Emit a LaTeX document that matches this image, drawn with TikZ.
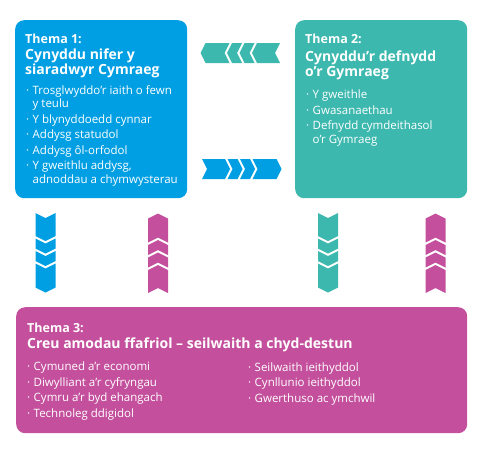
\documentclass[tikz,border=0pt]{standalone}
\usepackage{fontspec}
\setmainfont{Open Sans}
\usepackage{tikz}
\usetikzlibrary{positioning}
\definecolor{themablue}{HTML}{009FE3}
\definecolor{thematel}{HTML}{3CB8AE}
\definecolor{themapink}{HTML}{C4509D}
\tikzstyle{Thema}=[rectangle, rounded corners=9, inner sep=0, anchor=north west]
\tikzstyle{Num}=[anchor=base west, inner sep=0, text=white, font=\bfseries\fontsize{12.5}{15}\selectfont]
\tikzstyle{Head}=[anchor=base west, inner sep=0, align=left, text=white, font=\bfseries\fontsize{14}{15}\selectfont]
\tikzstyle{Items}=[anchor=base west, inner sep=0, align=left, text=white, font=\fontsize{11.5}{13.5}\selectfont]
\tikzset{chevs/.pic={
    \foreach \s/\l in {0/28, 25.5/15, 38/15, 50.5/29}
      \fill (\s,-10) -- ++(\l-5,0) -- ++(5,10) -- ++(-5,10) -- ++(-\l+5,0) -- ++(5,-10) -- cycle;
}}
\newcommand{\bul}{\makebox[6.5pt][l]{\textperiodcentered}}
\newcommand{\cnt}{\hspace*{6.5pt}}

\begin{document}
\begin{tikzpicture}[x=1pt, y=-1pt]
    \useasboundingbox (0,0) rectangle (481,453);
    \path
    (15,20) node[Thema, fill=themablue, minimum width=172, minimum height=178] (t1) {}
    (295,20) node[Thema, fill=thematel, minimum width=172, minimum height=178] (t2) {}
    (16,307) node[Thema, fill=themapink, minimum width=451, minimum height=126] (t3) {};

    \path (25,43) node[Num] (t1num) {Thema 1:}
    (25,74) node[Head] (t1head) {Cynyddu nifer y\\siaradwyr Cymraeg}
    (26,183) node[Items] (t1items) {\bul Trosglwyddo’r iaith o fewn\\\cnt y teulu\\[2pt]
        \bul Y blynyddoedd cynnar\\[2pt]\bul Addysg statudol\\[2pt]\bul Addysg ôl-orfodol\\[2pt]
        \bul Y gweithlu addysg,\\\cnt adnoddau a chymwysterau};

    \path (305,43) node[Num] (t2num) {Thema 2:}
    (305,76) node[Head] (t2head) {Cynyddu’r defnydd\\o’r Gymraeg}
    (306,143) node[Items] (t2items) {\bul Y gweithle\\[2pt]\bul Gwasanaethau\\[2pt]
        \bul Defnydd cymdeithasol\\\cnt o’r Gymraeg};

    \path (27,332) node[Num] (t3num) {Thema 3:}
    (27,348) node[Head] (t3head) {Creu amodau ffafriol – seilwaith a chyd-destun}
    (27,417) node[Items] (t3left) {\bul Cymuned a’r economi\\[2pt]\bul Diwylliant a’r cyfryngau\\[2pt]
        \bul Cymru a’r byd ehangach\\[2pt]\bul Technoleg ddigidol}
    (248,402) node[Items] (t3right) {\bul Seilwaith ieithyddol\\[2pt]\bul Cynllunio ieithyddol\\[2pt]
        \bul Gwerthuso ac ymchwil};

    \pic[fill=thematel, rotate=180] at (280,53) {chevs};
    \pic[fill=themablue] at (202,169) {chevs};
    \pic[fill=themablue, rotate=-90] at (45.5,213) {chevs};
    \pic[fill=themapink, rotate=90] at (158,293) {chevs};
    \pic[fill=thematel, rotate=-90] at (328,213) {chevs};
    \pic[fill=themapink, rotate=90] at (435.5,293) {chevs};
\end{tikzpicture}
\end{document}
